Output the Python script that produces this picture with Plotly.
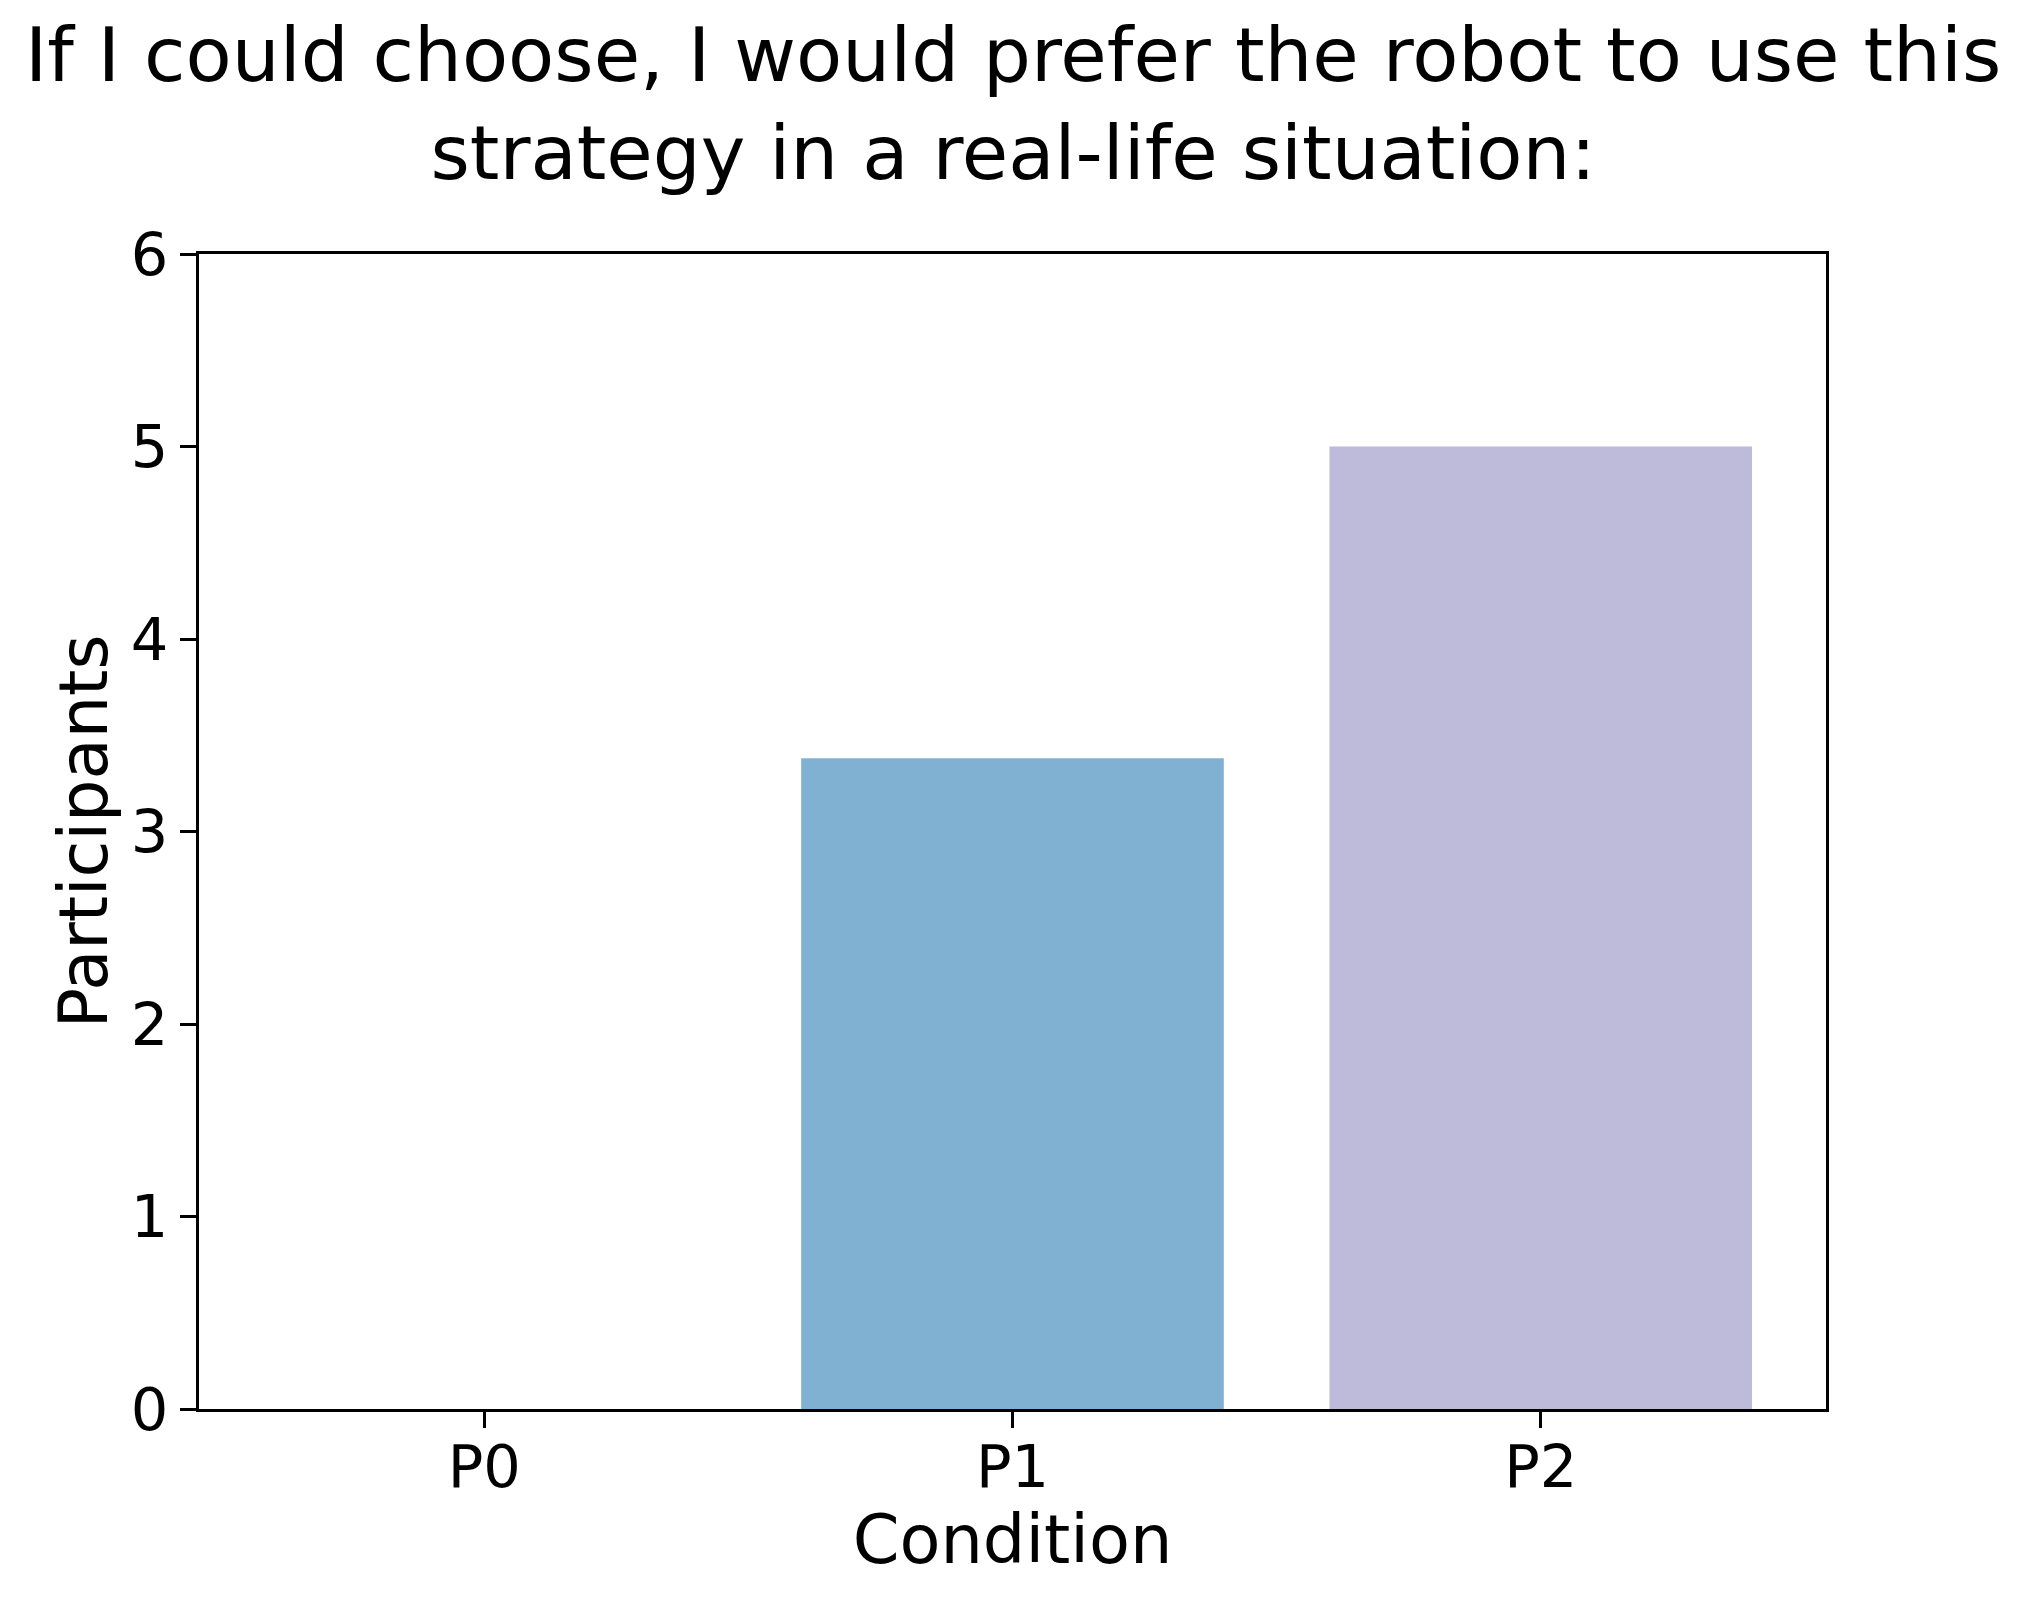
import plotly.graph_objects as go

# data
conditions = ["P0", "P1", "P2"]
participants = [0, 3.38, 5]
bar_colors = ["#8DD3C7", "#80B1D3", "#BEBADA"]

title_lines = ["If I could choose, I would prefer the robot to use this",
               "strategy in a real-life situation:"]

# page has an 8px body margin, so the figure is a bit smaller than the window
W, H = 2015, 1600
FONT = "DejaVu Sans"

fig = go.Figure(go.Bar(
    x=conditions,
    y=participants,
    width=0.8,
    marker=dict(color=bar_colors, line=dict(width=0)),
    showlegend=False,
))

# two-line title centred over the figure
fig.add_annotation(text="<br>".join(title_lines), xref="paper", yref="paper",
                   x=0.5, y=1.1303, xanchor="center", yanchor="middle",
                   align="center", showarrow=False,
                   font=dict(size=75.5, color="black", family=FONT))

fig.update_layout(
    width=W, height=H,
    margin=dict(l=191, r=197, t=246, b=199),
    paper_bgcolor="white",
    plot_bgcolor="white",
    font=dict(family=FONT, color="black"),
    bargap=0.2,
)

fig.update_xaxes(
    type="category",
    range=[-0.54, 2.54],
    showline=True, linecolor="black", linewidth=3, mirror=True,
    ticks="outside", ticklen=16, tickwidth=3, tickcolor="black",
    tickfont=dict(size=59), ticklabelstandoff=-12,
    showgrid=False, zeroline=False,
    title=dict(text="Condition", font=dict(size=67), standoff=10),
)
fig.update_yaxes(
    range=[0, 6], dtick=1, tick0=0,
    showline=True, linecolor="black", linewidth=3, mirror=True,
    ticks="outside", ticklen=16, tickwidth=3, tickcolor="black",
    tickfont=dict(size=59),
    showgrid=False, zeroline=False,
    title=dict(text="Participants", font=dict(size=67), standoff=2),
)

fig.write_html("out.html")
